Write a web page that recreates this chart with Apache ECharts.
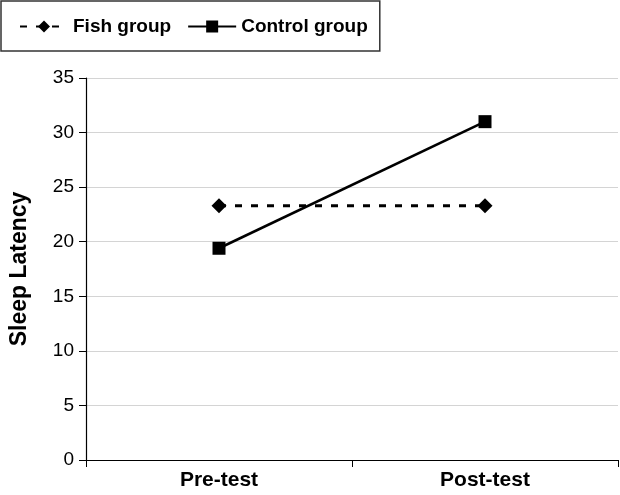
<!DOCTYPE html>
<html>
<head>
<meta charset="utf-8">
<script src="https://cdn.jsdelivr.net/npm/echarts@6/dist/echarts.min.js"></script>
<style>
  html, body { margin: 0; padding: 0; background: #fff; }
  #chart { width: 620px; height: 495px; }
</style>
</head>
<body>
<div id="chart"></div>
<script>
const categories = ['Pre-test', 'Post-test'];
const fishGroup = [23.3, 23.3];
const controlGroup = [19.4, 31.0];
const yTicks = { min: 0, max: 35, interval: 5 };

const font = '"Liberation Sans Narrow", "Liberation Sans", Arial, sans-serif';

var myChart = echarts.init(document.getElementById('chart'));
myChart.setOption({
  animation: false,
  textStyle: { fontFamily: font, color: '#000' },
  legend: {
    left: 1,
    top: 1,
    padding: [16, 12, 15, 18],
    borderColor: '#333',
    borderWidth: 1.5,
    itemGap: 16,
    itemWidth: 48,
    itemHeight: 15,
    textStyle: { fontSize: 19, fontWeight: 'bold', color: '#000', fontFamily: font },
    data: ['Fish group', 'Control group']
  },
  grid: { left: 85, right: 2, top: 78, bottom: 35 },
  xAxis: {
    type: 'category',
    data: categories,
    axisLine: { lineStyle: { color: '#000', width: 1.2 } },
    axisTick: { show: true, length: 7, lineStyle: { color: '#000' } },
    axisLabel: { fontSize: 21, fontWeight: 'bold', color: '#000', margin: 10 }
  },
  yAxis: {
    type: 'value',
    min: yTicks.min,
    max: yTicks.max,
    interval: yTicks.interval,
    name: 'Sleep Latency',
    nameLocation: 'middle',
    nameGap: 55,
    nameTextStyle: { fontSize: 23, fontWeight: 'bold', color: '#000' },
    axisLine: { show: true, lineStyle: { color: '#000', width: 1.2 } },
    axisTick: { show: true, length: 7, lineStyle: { color: '#000' } },
    axisLabel: { fontSize: 19, color: '#000', margin: 12 },
    splitLine: { lineStyle: { color: '#d4d4d4', width: 1.2 } }
  },
  series: [
    {
      name: 'Fish group',
      type: 'line',
      data: fishGroup,
      symbol: 'diamond',
      symbolSize: 15,
      itemStyle: { color: '#000' },
      lineStyle: { color: '#000', width: 3, type: [7, 9] }
    },
    {
      name: 'Control group',
      type: 'line',
      data: controlGroup,
      symbol: 'rect',
      symbolSize: 13,
      itemStyle: { color: '#000' },
      lineStyle: { color: '#000', width: 2.6 }
    }
  ]
});
</script>
</body>
</html>
